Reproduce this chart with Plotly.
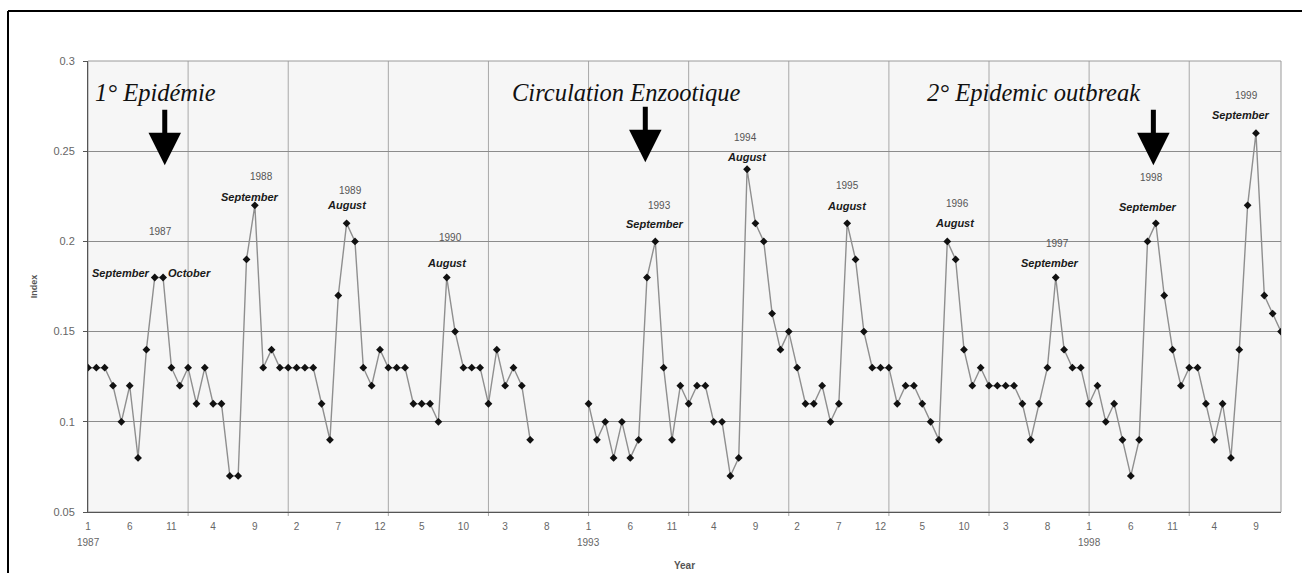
import plotly.graph_objects as go

# Monthly index values, one list per year (None = no data collected)
years = [1987, 1988, 1989, 1990, 1991, 1993, 1994, 1995, 1996, 1997, 1998, 1999]
v1987 = [0.13, 0.13, 0.13, 0.12, 0.10, 0.12, 0.08, 0.14, 0.18, 0.18, 0.13, 0.12]
v1988 = [0.13, 0.11, 0.13, 0.11, 0.11, 0.07, 0.07, 0.19, 0.22, 0.13, 0.14, 0.13]
v1989 = [0.13, 0.13, 0.13, 0.13, 0.11, 0.09, 0.17, 0.21, 0.20, 0.13, 0.12, 0.14]
v1990 = [0.13, 0.13, 0.13, 0.11, 0.11, 0.11, 0.10, 0.18, 0.15, 0.13, 0.13, 0.13]
v1991 = [0.11, 0.14, 0.12, 0.13, 0.12, 0.09, None, None, None, None, None, None]
v1993 = [0.11, 0.09, 0.10, 0.08, 0.10, 0.08, 0.09, 0.18, 0.20, 0.13, 0.09, 0.12]
v1994 = [0.11, 0.12, 0.12, 0.10, 0.10, 0.07, 0.08, 0.24, 0.21, 0.20, 0.16, 0.14]
v1995 = [0.15, 0.13, 0.11, 0.11, 0.12, 0.10, 0.11, 0.21, 0.19, 0.15, 0.13, 0.13]
v1996 = [0.13, 0.11, 0.12, 0.12, 0.11, 0.10, 0.09, 0.20, 0.19, 0.14, 0.12, 0.13]
v1997 = [0.12, 0.12, 0.12, 0.12, 0.11, 0.09, 0.11, 0.13, 0.18, 0.14, 0.13, 0.13]
v1998 = [0.11, 0.12, 0.10, 0.11, 0.09, 0.07, 0.09, 0.20, 0.21, 0.17, 0.14, 0.12]
v1999 = [0.13, 0.13, 0.11, 0.09, 0.11, 0.08, 0.14, 0.22, 0.26, 0.17, 0.16, 0.15]
series = [v1987, v1988, v1989, v1990, v1991, v1993, v1994, v1995, v1996, v1997, v1998, v1999]

# Labelled seasonal peaks: (year, month, month name)
peaks = [
    (1987, 9, "September"), (1987, 10, "October"),
    (1988, 9, "September"), (1989, 8, "August"), (1990, 8, "August"),
    (1993, 9, "September"), (1994, 8, "August"), (1995, 8, "August"),
    (1996, 8, "August"), (1997, 9, "September"), (1998, 9, "September"),
    (1999, 9, "September"),
]
# Year captions placed over each peak
peak_years = [1987, 1988, 1989, 1990, 1993, 1994, 1995, 1996, 1997, 1998, 1999]

# Event captions
events = ["1° Epidémie", "Circulation Enzootique", "2° Epidemic outbreak"]

# ---- build the category axis ----
cats, months, vals = [], [], []
for yr, vs in zip(years, series):
    for m, v in enumerate(vs, start=1):
        cats.append(f"{yr}-{m:02d}")
        months.append(m)
        vals.append(v)
pos = {c: i for i, c in enumerate(cats)}
value = dict(zip(cats, vals))

W, H = 1302, 573
ML, MR, MT, MB = 88, 21, 61, 61
PW, PH = W - ML - MR, H - MT - MB
YMIN, YMAX = 0.05, 0.30

fig = go.Figure()
fig.add_trace(go.Scatter(
    x=cats, y=vals, mode="lines+markers", connectgaps=False,
    line=dict(color="#8f8f8f", width=1.4),
    marker=dict(symbol="diamond", size=6, color="#111111"),
    showlegend=False, hoverinfo="x+y",
))

tickvals = cats[::5]
ticktext = [str(months[pos[c]]) for c in tickvals]

shapes = []
# yearly vertical grid lines (extending slightly below the axis as tick marks)
for c in cats:
    if c.endswith("-01") and pos[c] > 0:
        shapes.append(dict(type="line", xref="x", yref="paper", x0=c, x1=c,
                           y0=-4 / PH, y1=1, layer="below",
                           line=dict(color="#a8a8a8", width=1)))
# plot-area frame
shapes.append(dict(type="rect", xref="paper", yref="paper", x0=0, x1=1, y0=0, y1=1,
                   line=dict(color="#9a9a9a", width=1), layer="below"))
# outer frame (top and left edges)
fx = (8 - ML) / PW
fy = (MT - 11) / PH + 1
shapes.append(dict(type="line", xref="paper", yref="paper", x0=fx, x1=1 + MR / PW,
                   y0=fy, y1=fy, line=dict(color="black", width=2)))
shapes.append(dict(type="line", xref="paper", yref="paper", x0=fx, x1=fx,
                   y0=fy, y1=-MB / PH, line=dict(color="black", width=2)))

annotations = []
# year captions under January ticks
for c in tickvals:
    if months[pos[c]] == 1:
        annotations.append(dict(x=c, y=-31 / PH, xref="x", yref="paper",
                                yanchor="middle", yshift=1,
                                text=c[:4], showarrow=False,
                                font=dict(family="Liberation Sans", size=10, color="#666666")))

# peak month names
name_style = {
    (1987, 9): dict(xanchor="right", xshift=-3, yshift=4),
    (1987, 10): dict(xanchor="left", xshift=3, yshift=4),
    (1988, 9): dict(xshift=-5, yshift=8),
    (1989, 8): dict(yshift=18),
    (1990, 8): dict(yshift=14),
    (1993, 9): dict(yshift=17),
    (1994, 8): dict(yshift=12),
    (1995, 8): dict(yshift=17),
    (1996, 8): dict(xshift=8, yshift=18),
    (1997, 9): dict(xshift=-6, yshift=14),
    (1998, 9): dict(xshift=-8, yshift=16),
    (1999, 9): dict(xshift=-15, yshift=18),
}
for yr, m, name in peaks:
    c = f"{yr}-{m:02d}"
    st = dict(xanchor="center", xshift=0, yshift=0)
    st.update(name_style[(yr, m)])
    annotations.append(dict(x=c, y=value[c], xref="x", yref="y",
                            text=f"<b><i>{name}</i></b>", showarrow=False,
                            font=dict(family="Liberation Sans", size=11, color="#1a1a1a"),
                            **st))

# year captions above peaks (offsets in pixels from the peak marker)
year_shift = {1987: (6, 46), 1988: (7, 29), 1989: (4, 33), 1990: (4, 40), 1993: (4, 36),
              1994: (-2, 32), 1995: (0, 38), 1996: (10, 38), 1997: (2, 34),
              1998: (-4, 46), 1999: (-9, 38)}
for yr in peak_years:
    cands = [f"{yr}-{m:02d}" for m in range(1, 13) if value.get(f"{yr}-{m:02d}") is not None]
    c = max(cands, key=lambda k: value[k])
    dx, dy = year_shift[yr]
    annotations.append(dict(x=c, y=value[c], xref="x", yref="y", text=str(yr),
                            showarrow=False, xshift=dx, yshift=dy,
                            font=dict(family="Liberation Sans", size=10, color="#555555")))

# event captions (centre position on the category axis) with downward arrows
event_x = [8.15, 64.6, 113.4]
for text, ex in zip(events, event_x):
    annotations.append(dict(x=ex, y=0.2825, xref="x", yref="y",
                            text=f"<i>{text}</i>", showarrow=False,
                            font=dict(family="Liberation Serif", size=24.5, color="#111111")))
arrows = [(9.2, 0.2422), (66.8, 0.2439), (127.7, 0.2422)]
for ax_, ay_ in arrows:
    annotations.append(dict(x=ax_, y=ay_, xref="x", yref="y", text="",
                            showarrow=True, ax=0, ay=-57, arrowhead=2,
                            arrowwidth=5, arrowsize=1.3, arrowcolor="#000000"))

fig.update_layout(
    width=W, height=H,
    margin=dict(l=ML, r=MR, t=MT, b=MB, pad=0, autoexpand=False),
    paper_bgcolor="white", plot_bgcolor="#f6f6f6",
    font=dict(family="Liberation Sans", size=10, color="#555555"),
    xaxis=dict(type="category", categoryorder="array", categoryarray=cats,
               range=[0, len(cats) - 1], tickmode="array", tickvals=tickvals,
               ticktext=ticktext, showgrid=False, ticks="", showline=True,
               linecolor="#555555", linewidth=1, zeroline=False,
               ticklabelstandoff=5, automargin=False,
               tickfont=dict(size=10, color="#666666"),
               title=dict(text="<b>Year</b>", standoff=30,
                          font=dict(size=10, color="#555555"))),
    yaxis=dict(range=[YMIN, YMAX], dtick=0.05, tick0=0.05, showgrid=True,
               gridcolor="#8c8c8c", gridwidth=1, ticks="outside", ticklen=4,
               tickcolor="#555555", showline=True, linecolor="#555555",
               linewidth=1, zeroline=False, ticklabelstandoff=6, automargin=False,
               tickfont=dict(size=11, color="#666666"),
               title=dict(text="<b>Index</b>", standoff=14,
                          font=dict(size=9, color="#555555"))),
    shapes=shapes, annotations=annotations,
)

fig.write_html("out.html")
